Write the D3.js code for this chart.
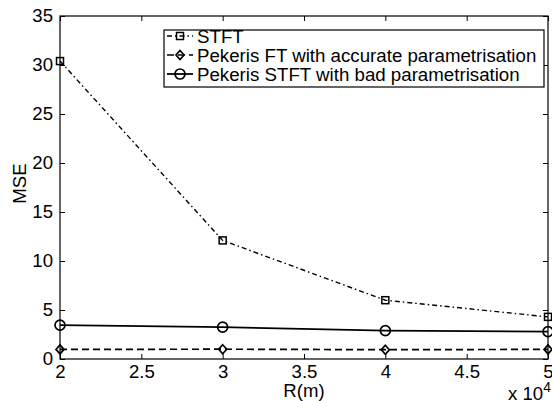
<!DOCTYPE html>
<html>
<head>
<meta charset="utf-8">
<script src="https://cdn.jsdelivr.net/npm/d3@7"></script>
<style>
  body { margin: 0; background: #fff; }
  text { font-family: "Liberation Sans", Arial, Helvetica, sans-serif; fill: #000; }
</style>
</head>
<body>
<div class="chart"></div>
<script>
// --- data ---
const rValues = [20000, 30000, 40000, 50000];
const stft = [30.4, 12.1, 6.0, 4.3];
const pekerisFT = [0.98, 1.0, 0.95, 0.98];
const pekerisSTFT = [3.45, 3.25, 2.9, 2.8];
const seriesNames = ["STFT", "Pekeris FT with accurate parametrisation", "Pekeris STFT with bad parametrisation"];
const xTicks = [20000, 25000, 30000, 35000, 40000, 45000, 50000];
const yTicks = [0, 5, 10, 15, 20, 25, 30, 35];

const W = 552, H = 401;
const margin = {top: 16, right: 4, bottom: 42, left: 60};
const fontSize = 18.6;
const legendFont = 18.7;

const svg = d3.select(".chart").append("svg")
    .attr("width", W)
    .attr("height", H);

const x = d3.scaleLinear().domain([20000, 50000]).range([margin.left, W - margin.right]);
const y = d3.scaleLinear().domain([0, 35]).range([H - margin.bottom, margin.top]);

// axes (MATLAB style: ticks inside, box on)
const fmtX = d => d3.format("~g")(d / 1e4);

svg.append("g")
    .attr("transform", `translate(0,${y(0)})`)
    .call(d3.axisBottom(x).tickValues(xTicks).tickFormat(fmtX).tickSizeInner(-5).tickSizeOuter(0).tickPadding(6));
svg.append("g")
    .attr("transform", `translate(0,${y(35)})`)
    .call(d3.axisTop(x).tickValues(xTicks).tickFormat("").tickSizeInner(-5).tickSizeOuter(0));
svg.append("g")
    .attr("transform", `translate(${x(20000)},0)`)
    .call(d3.axisLeft(y).tickValues(yTicks).tickSizeInner(-5).tickSizeOuter(0).tickPadding(7));
svg.append("g")
    .attr("transform", `translate(${x(50000)},0)`)
    .call(d3.axisRight(y).tickValues(yTicks).tickFormat("").tickSizeInner(-5).tickSizeOuter(0));

svg.selectAll(".domain").remove();
svg.selectAll(".tick line").attr("stroke", "#000");
svg.selectAll(".tick text").style("font-size", fontSize + "px").attr("fill", "#000");

// plot box
svg.append("rect")
    .attr("x", x(20000)).attr("y", y(35))
    .attr("width", x(50000) - x(20000))
    .attr("height", y(0) - y(35))
    .attr("fill", "none")
    .attr("stroke", "#000")
    .attr("stroke-width", 1.2);

// --- series ---
const styles = [
    {values: stft, dash: "5,3,1.5,3", width: 1.4, marker: "square"},
    {values: pekerisFT, dash: "7,4", width: 1.7, marker: "diamond"},
    {values: pekerisSTFT, dash: null, width: 1.8, marker: "circle"}
];

const line = d3.line().x(d => x(d[0])).y(d => y(d[1]));

function drawMarker(g, type, cx, cy) {
    if (type === "square") {
        g.append("rect").attr("x", cx - 3.5).attr("y", cy - 3.5).attr("width", 7).attr("height", 7)
            .attr("fill", "none").attr("stroke", "#000").attr("stroke-width", 1.5);
    } else if (type === "diamond") {
        g.append("path").attr("d", `M${cx},${cy - 4.5}L${cx + 4},${cy}L${cx},${cy + 4.5}L${cx - 4},${cy}Z`)
            .attr("fill", "none").attr("stroke", "#000").attr("stroke-width", 1.7);
    } else {
        g.append("circle").attr("cx", cx).attr("cy", cy).attr("r", 5)
            .attr("fill", "none").attr("stroke", "#000").attr("stroke-width", 1.7);
    }
}

styles.forEach(s => {
    const pts = rValues.map((r, i) => [r, s.values[i]]);
    const g = svg.append("g");
    g.append("path")
        .attr("d", line(pts))
        .attr("fill", "none")
        .attr("stroke", "#000")
        .attr("stroke-width", s.width)
        .attr("stroke-dasharray", s.dash);
    pts.forEach(p => drawMarker(g, s.marker, x(p[0]), y(p[1])));
});

// axis labels
svg.append("text")
    .attr("x", (x(20000) + x(50000)) / 2)
    .attr("y", 397)
    .attr("text-anchor", "middle")
    .style("font-size", fontSize + "px")
    .text("R(m)");

svg.append("text")
    .attr("transform", `translate(26,${(y(0) + y(35)) / 2 - 4}) rotate(-90)`)
    .attr("text-anchor", "middle")
    .style("font-size", fontSize + "px")
    .text("MSE");

// exponent label
const expo = svg.append("text")
    .attr("x", 508)
    .attr("y", 400)
    .style("font-size", fontSize + "px");
expo.append("tspan").text("x 10");
expo.append("tspan").attr("dy", -8).style("font-size", "14px").text("4");

// --- legend ---
const legend = svg.append("g");
legend.append("rect")
    .attr("x", 164).attr("y", 30)
    .attr("width", 380).attr("height", 57)
    .attr("fill", "#fff")
    .attr("stroke", "#000")
    .attr("stroke-width", 1.2);

const rowY = [36, 55, 74];
styles.forEach((s, i) => {
    const g = legend.append("g");
    g.append("line")
        .attr("x1", 167).attr("x2", 193)
        .attr("y1", rowY[i]).attr("y2", rowY[i])
        .attr("stroke", "#000")
        .attr("stroke-width", s.width)
        .attr("stroke-dasharray", s.dash);
    drawMarker(g, s.marker, 180, rowY[i]);
    g.append("text")
        .attr("x", 197)
        .attr("y", rowY[i])
        .attr("dy", "0.35em")
        .style("font-size", legendFont + "px")
        .text(seriesNames[i]);
});
</script>
</body>
</html>
